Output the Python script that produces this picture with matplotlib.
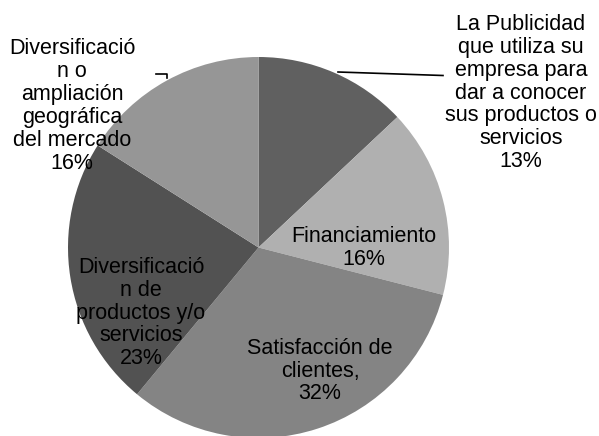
import matplotlib.pyplot as plt

# --- DATA ---
categories = [
    "La Publicidad\nque utiliza su\nempresa para\ndar a conocer\nsus productos o\nservicios",
    "Financiamiento",
    "Satisfacción de\nclientes,",
    "Diversificació\nn de\nproductos y/o\nservicios",
    "Diversificació\nn o\nampliación\ngeográfica\ndel mercado",
]
values = [13, 16, 32, 23, 16]
colors = ["#606060", "#b0b0b0", "#848484", "#525252", "#969696"]

# label centres in pixels (x from left, y from top), chart is 599x436
label_px = [(521, 93), (364, 248), (320, 371), (141, 313), (72, 106)]

W, H = 599, 436
cx, cy, r = 258.5, 247.5, 190.5

plt.rcParams['font.family'] = ['Liberation Sans', 'DejaVu Sans']

fig = plt.figure(figsize=(W / 100, H / 100), dpi=100)
ax = fig.add_axes([(cx - r) / W, (H - cy - r) / H, 2 * r / W, 2 * r / H])
ax.pie(values, colors=colors, startangle=90, counterclock=False, radius=1,
       wedgeprops=dict(linewidth=0))
ax.set_xlim(-1, 1)
ax.set_ylim(-1, 1)
ax.axis('off')


def to_data(px, py):
    return (px - cx) / r, (cy - py) / r


for cat, val, (px, py) in zip(categories, values, label_px):
    x, y = to_data(px, py)
    ax.text(x, y, f"{cat}\n{val}%", ha='center', va='center', fontsize=15.5,
            linespacing=1.12, color='black', clip_on=False)

# leader lines
x0, y0 = to_data(338, 72)
x1, y1 = to_data(443, 75.5)
ax.plot([x0, x1], [y0, y1], color='black', lw=1.2, clip_on=False)
xa, ya = to_data(156, 74.5)
xb, yb = to_data(166.5, 74.5)
xc, yc = to_data(166.5, 78.5)
ax.plot([xa, xb, xc], [ya, yb, yc], color='black', lw=1.2, clip_on=False)

fig.savefig("out.png", dpi=100)
